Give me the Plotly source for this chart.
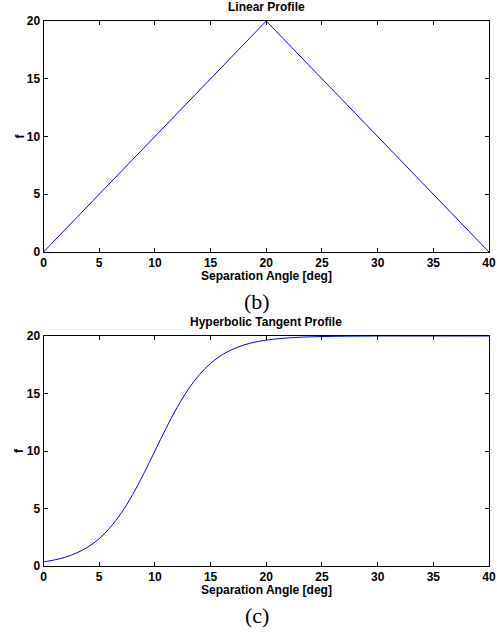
import plotly.graph_objects as go

# Linear profile
lin_angle = [0, 20, 40]
lin_f = [0, 20, 0]

# Hyperbolic tangent profile
tanh_angle = [0, 1, 2, 3, 4, 5, 6, 7, 8, 9, 10, 11, 12, 13, 14, 15, 16, 17, 18, 19,
              20, 21, 22, 23, 24, 25, 26, 27, 28, 29, 30, 32, 34, 36, 38, 40]
tanh_f = [0.36, 0.53, 0.78, 1.15, 1.66, 2.38, 3.36, 4.63, 6.20, 8.03, 10.0, 11.97,
          13.80, 15.37, 16.64, 17.62, 18.34, 18.85, 19.22, 19.47, 19.64, 19.76,
          19.84, 19.89, 19.93, 19.95, 19.97, 19.98, 19.99, 19.99, 20.0, 20.0, 20.0,
          20.0, 20.0, 20.0]

x_ticks = [0, 5, 10, 15, 20, 25, 30, 35, 40]
y_ticks = [0, 5, 10, 15, 20]

titles = ["Linear Profile", "Hyperbolic Tangent Profile"]
x_label = "Separation Angle [deg]"
y_label = "f"
panel_labels = ["(b)", "(c)"]

W, H = 497, 632
x0, x1 = 43.5, 489
tops = [21, 336]
bots = [252, 566]

fig = go.Figure()
fig.add_trace(go.Scatter(x=lin_angle, y=lin_f, mode="lines",
                         line=dict(color="#0000ff", width=1), xaxis="x", yaxis="y"))
fig.add_trace(go.Scatter(x=tanh_angle, y=tanh_f, mode="lines", line_shape="spline",
                         line=dict(color="#0000ff", width=1), xaxis="x2", yaxis="y2"))

tickfont = dict(family="Liberation Sans", size=12, color="black")
axcommon = dict(showgrid=False, zeroline=False, showline=True, linecolor="black",
                linewidth=1, mirror="allticks", ticks="inside", ticklen=4,
                tickcolor="black", tickwidth=1, tickfont=tickfont, automargin=False,
                ticklabeloverflow="allow")

layout = dict(width=W, height=H, margin=dict(l=0, r=0, t=0, b=0),
              paper_bgcolor="white", plot_bgcolor="white", showlegend=False)
for i in range(2):
    sx = "" if i == 0 else "2"
    layout["xaxis" + sx] = dict(axcommon, domain=[x0 / W, x1 / W], range=[0, 40],
                                tickvals=x_ticks, ticktext=["<b>%d</b>" % v for v in x_ticks],
                                anchor="y" + sx)
    layout["yaxis" + sx] = dict(axcommon, domain=[1 - bots[i] / H, 1 - tops[i] / H],
                                range=[0, 20], tickvals=y_ticks, ticktext=["<b>%d</b>" % v for v in y_ticks],
                                anchor="x" + sx)
fig.update_layout(**layout)

bfont = dict(family="Liberation Sans", size=12, color="black")
ann = []
for i in range(2):
    cx = (x0 + x1) / 2 / W
    ann.append(dict(text="<b>%s</b>" % titles[i], x=cx, y=1 - (tops[i] - 14) / H, xref="paper", yref="paper",
                    showarrow=False, font=bfont, xanchor="center", yanchor="middle"))
    ann.append(dict(text="<b>%s</b>" % x_label, x=cx, y=1 - (bots[i] + 24) / H, xref="paper", yref="paper",
                    showarrow=False, font=bfont, xanchor="center", yanchor="middle"))
    ann.append(dict(text="<b>%s</b>" % y_label, x=19 / W, y=1 - (tops[i] + bots[i]) / 2 / H,
                    xref="paper", yref="paper", showarrow=False, textangle=-90,
                    font=bfont, xanchor="center", yanchor="middle"))
    ann.append(dict(text=panel_labels[i], x=257 / W, y=1 - (bots[i] + 49) / H, xref="paper", yref="paper",
                    showarrow=False, font=dict(family="Liberation Serif", size=22, color="black"),
                    xanchor="center", yanchor="middle"))
fig.update_layout(annotations=ann)

fig.write_html("out.html", config={"displayModeBar": False},
               post_script="document.body.style.margin='0px';document.body.style.overflow='hidden';")
